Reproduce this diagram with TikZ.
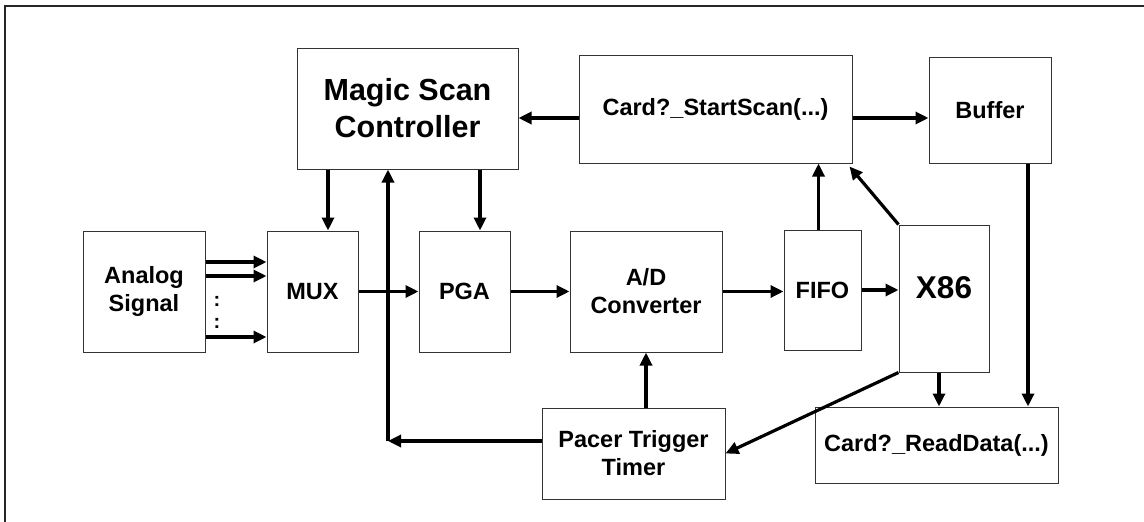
\documentclass[tikz,border=0pt]{standalone}
\usepackage{fontspec}
\setmainfont{Liberation Sans}
\usetikzlibrary{arrows.meta}
\begin{document}
\begin{tikzpicture}[x=1pt,y=-1pt,
  blk/.style={draw=black!80,line width=1pt,align=center,inner sep=0pt,
    font=\bfseries\fontsize{23.5}{28}\selectfont},
  arr/.style={line width=3.2pt,-{Triangle[length=13pt,width=12pt]}},
  vdot/.style={font=\bfseries\fontsize{20}{20}\selectfont,inner sep=0pt}]
  \useasboundingbox (0,0) rectangle (1144,522);
  \draw[line width=2pt,black!85] (5,530) |- (1150,6);
  % upper row
  \node[blk,minimum width=221,minimum height=121,font=\bfseries\fontsize{30.5}{37}\selectfont] (msc) at (407.5,108.5) {Magic Scan\\Controller};
  \node[blk,minimum width=273,minimum height=108] (start) at (715.5,109) {Card?\_StartScan(...)};
  \node[blk,minimum width=122,minimum height=106] (buf) at (990,110) {Buffer};
  % signal path
  \node[blk,minimum width=122,minimum height=121] (ana) at (144,291.5) {Analog\\Signal};
  \node[blk,minimum width=91,minimum height=121] (mux) at (312.5,291.5) {MUX};
  \node[blk,minimum width=91,minimum height=121] (pga) at (464.5,291.5) {PGA};
  \node[blk,minimum width=152,minimum height=121] (adc) at (646,291.5) {A/D\\Converter};
  \node[blk,minimum width=77,minimum height=120] (fifo) at (822.5,290) {FIFO};
  \node[blk,minimum width=90,minimum height=147,font=\bfseries\fontsize{31.5}{37}\selectfont] (x86) at (944,298.5) {\raisebox{22pt}{X86}};
  % lower row
  \node[blk,minimum width=183,minimum height=91] (pacer) at (633.5,453.5) {Pacer Trigger\\Timer};
  \node[blk,minimum width=243,minimum height=76] (read) at (936.5,445) {Card?\_ReadData(...)};
  \node[vdot] (dotsa) at (217,301) {:};
  \node[vdot] (dotsb) at (217,323) {:};
  \coordinate (fb) at (388,441);
  % connectors
  \foreach \s in {29.5,15.5,-45.5}
    \draw[arr] ([yshift=\s pt]ana.east) -- ([yshift=\s pt]mux.west);
  \draw[arr] ([yshift=-9pt]start.west) -- ([yshift=-9pt]start.west -| msc.east);
  \draw[arr] ([yshift=-9pt]start.east) -- ([yshift=-9pt]start.east -| buf.west);
  \draw[arr] ([xshift=15.5pt]mux.north |- msc.south) -- ([xshift=15.5pt]mux.north);
  \draw[arr] ([xshift=15.5pt]pga.north |- msc.south) -- ([xshift=15.5pt]pga.north);
  \draw[arr] (mux.east) -- (pga.west);
  \draw[arr] (pga.east) -- (adc.west);
  \draw[arr] (adc.east) -- (adc.east -| fifo.west);
  \draw[arr] (fifo.east) -- (fifo.east -| x86.west);
  \draw[arr] ([xshift=-4pt]fifo.north) -- ([xshift=-4pt]fifo.north |- start.south);
  \draw[arr] (x86.north west) -- ([xshift=-3pt,yshift=-3pt]start.south east);
  \draw[arr] (x86.south west) -- (pacer.east);
  \draw[arr] ([xshift=-5pt]x86.south) -- ([xshift=-5pt]x86.south |- read.north);
  \draw[arr] ([xshift=38pt]buf.south) -- ([xshift=38pt]buf.south |- read.north);
  \draw[arr] (adc.south |- pacer.north) -- (adc.south);
  \draw[arr] (pacer.west |- fb) -- (fb);
  \draw[arr] (fb) -- (fb |- msc.south);
\end{tikzpicture}
\end{document}
